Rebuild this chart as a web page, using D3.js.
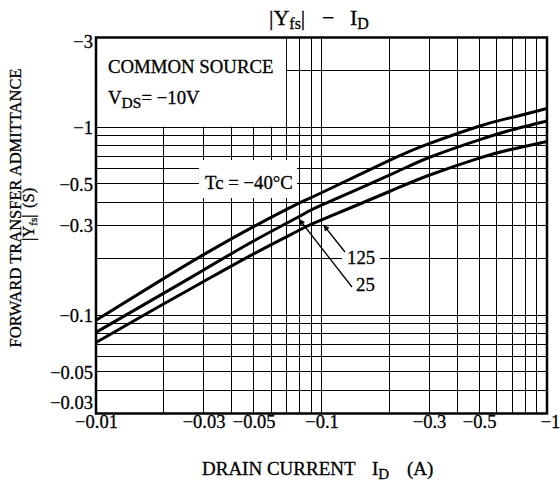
<!DOCTYPE html>
<html><head><meta charset="utf-8">
<script src="https://cdn.jsdelivr.net/npm/d3@7"></script>
<style>
body{margin:0;background:#fff}
svg{display:block}
text{font-family:"Liberation Serif","Times New Roman",serif;fill:#000;stroke:#000;stroke-width:0.3px}
</style>
</head><body>
<svg id="chart" width="560" height="481"></svg>
<script>
// ---- data (axis shows negatives, magnitudes used for log scale)
const drainCurrent = [0.01, 0.02, 0.03, 0.05, 0.08, 0.1, 0.2, 0.3, 0.5, 0.7, 1];
const yfsMinus40 = [0.094, 0.157, 0.210, 0.296, 0.396, 0.448, 0.666, 0.818, 1.012, 1.128, 1.258];
const yfs25      = [0.081, 0.131, 0.174, 0.248, 0.336, 0.385, 0.556, 0.690, 0.856, 0.968, 1.08];
const yfs125     = [0.0716, 0.115, 0.151, 0.212, 0.284, 0.321, 0.455, 0.555, 0.685, 0.764, 0.839];

const xTickValues = [0.01, 0.03, 0.05, 0.1, 0.3, 0.5, 1];
const xTickLabels = ["−0.01", "−0.03", "−0.05", "−0.1", "−0.3", "−0.5", "−1"];
const yTickValues = [3, 1, 0.5, 0.3, 0.1, 0.05, 0.03];
const yTickLabels = ["−3", "−1", "−0.5", "−0.3", "−0.1", "−0.05", "−0.03"];

const xGridValues = [0.02, 0.03, 0.04, 0.05, 0.06, 0.07, 0.08, 0.09, 0.1, 0.2, 0.3, 0.4, 0.5, 0.6, 0.7, 0.8, 0.9];
const yGridValues = [0.04, 0.05, 0.06, 0.07, 0.08, 0.09, 0.1, 0.2, 0.3, 0.4, 0.5, 0.6, 0.7, 0.8, 0.9, 1, 2];

// ---- layout
const L = 96, R = 547, T = 37.5, B = 413.5;
const svg = d3.select("#chart");
const x = d3.scaleLog().domain([0.01, 1]).range([L, R]);
const y = d3.scaleLog().domain([0.03, 3]).range([B, T]);

// grid
const grid = svg.append("g").attr("stroke", "#000").attr("stroke-width", 1).attr("shape-rendering", "crispEdges");
grid.selectAll("line.vx").data(xGridValues).join("line")
  .attr("x1", d => x(d)).attr("x2", d => x(d)).attr("y1", T).attr("y2", B);
grid.selectAll("line.hy").data(yGridValues).join("line")
  .attr("x1", L).attr("x2", R).attr("y1", d => y(d)).attr("y2", d => y(d));

// white areas hiding the grid behind annotations
const masks = svg.append("g").attr("fill", "#fff");
masks.append("rect").attr("x", L).attr("y", T).attr("width", x(0.07) - L - 0.5).attr("height", y(1) - T - 0.5);
masks.append("rect").attr("x", 199).attr("y", 160).attr("width", 98).attr("height", 38);
masks.append("rect").attr("x", 342).attr("y", 248).attr("width", 38).attr("height", 19);
masks.append("rect").attr("x", 354).attr("y", 275).attr("width", 26).attr("height", 19);

// curves
const line = d3.line().x(d => x(d[0])).y(d => y(d[1])).curve(d3.curveNatural);
[yfsMinus40, yfs25, yfs125].forEach(s => {
  svg.append("path").datum(drainCurrent.map((c, i) => [c, s[i]]))
    .attr("d", line).attr("fill", "none").attr("stroke", "#000").attr("stroke-width", 3);
});

// frame
svg.append("rect").attr("x", L).attr("y", T).attr("width", R - L).attr("height", B - T)
  .attr("fill", "none").attr("stroke", "#000").attr("stroke-width", 2.5);

// axes (labels only)
const xAxis = svg.append("g").attr("transform", `translate(0,${B})`)
  .call(d3.axisBottom(x).tickValues(xTickValues).tickFormat((d, i) => xTickLabels[i]).tickSize(0));
xAxis.select(".domain").remove();
xAxis.selectAll("text").attr("y", 14).attr("dy", 0).attr("font-size", 18.5)
  .attr("font-family", "Liberation Serif").attr("dx", (d, i) => i === xTickValues.length - 1 ? 3 : 0);

const yAxis = svg.append("g").attr("transform", `translate(${L},0)`)
  .call(d3.axisLeft(y).tickValues(yTickValues).tickFormat((d, i) => yTickLabels[i]).tickSize(0).tickPadding(3));
yAxis.select(".domain").remove();
yAxis.selectAll("text").attr("font-size", 18.5).attr("font-family", "Liberation Serif")
  .attr("dy", (d, i) => i === 0 ? "0.55em" : (i === yTickValues.length - 1 ? "-0.25em" : "0.35em"));

// title
const title = svg.append("text").attr("y", 25).attr("font-size", 22);
title.append("tspan").attr("x", 269).text("|Y");
title.append("tspan").attr("font-size", 16).attr("dy", 4).text("fs");
title.append("tspan").attr("dy", -4).text("|");
title.append("tspan").attr("x", 322).text("−");
title.append("tspan").attr("x", 350).text("I");
title.append("tspan").attr("font-size", 16).attr("dy", 4).text("D");

// x-axis title
const xt = svg.append("text").attr("y", 475).attr("font-size", 19);
xt.append("tspan").attr("x", 202).text("DRAIN CURRENT");
xt.append("tspan").attr("x", 372).text("I");
xt.append("tspan").attr("font-size", 15).attr("dy", 4).text("D");
xt.append("tspan").attr("x", 407).attr("dy", -4).text("(A)");

// y-axis title
svg.append("text").attr("transform", "translate(21,208) rotate(-90)").attr("text-anchor", "middle")
  .attr("font-size", 16.5).text("FORWARD TRANSFER ADMITTANCE");
const yt = svg.append("text").attr("transform", "translate(34,0) rotate(-90)").attr("font-size", 16.5);
yt.append("tspan").attr("x", -241).text("|Y");
yt.append("tspan").attr("font-size", 11).attr("dy", 3).text("fs");
yt.append("tspan").attr("dy", -3).text("|");
yt.append("tspan").attr("x", -208).text("(S)");

// annotations
svg.append("text").attr("x", 108).attr("y", 72.5).attr("font-size", 18.8).text("COMMON SOURCE");
const vds = svg.append("text").attr("x", 108).attr("y", 104).attr("font-size", 18.8);
vds.append("tspan").text("V");
vds.append("tspan").attr("font-size", 15.5).attr("dy", 4).text("DS");
vds.append("tspan").attr("dy", -4).text("=\u00A0−10V");
svg.append("text").attr("x", 205).attr("y", 188.5).attr("font-size", 18.8).text("Tc = −40°C");
svg.append("text").attr("x", 347).attr("y", 264).attr("font-size", 18.8).text("125");
svg.append("text").attr("x", 356).attr("y", 291).attr("font-size", 18.8).text("25");

// leader arrows
const defs = svg.append("defs");
defs.append("marker").attr("id", "arr").attr("viewBox", "0 0 10 10").attr("refX", 10).attr("refY", 5)
  .attr("markerWidth", 9).attr("markerHeight", 6).attr("markerUnits", "userSpaceOnUse").attr("orient", "auto")
  .append("path").attr("d", "M0,0 L10,5 L0,10 Z").attr("fill", "#000");
svg.append("line").attr("x1", 345).attr("y1", 252).attr("x2", 323.5).attr("y2", 225)
  .attr("stroke", "#000").attr("stroke-width", 1.3).attr("marker-end", "url(#arr)");
svg.append("line").attr("x1", 352).attr("y1", 287).attr("x2", 299).attr("y2", 219)
  .attr("stroke", "#000").attr("stroke-width", 1.3).attr("marker-end", "url(#arr)");
</script>
</body></html>
